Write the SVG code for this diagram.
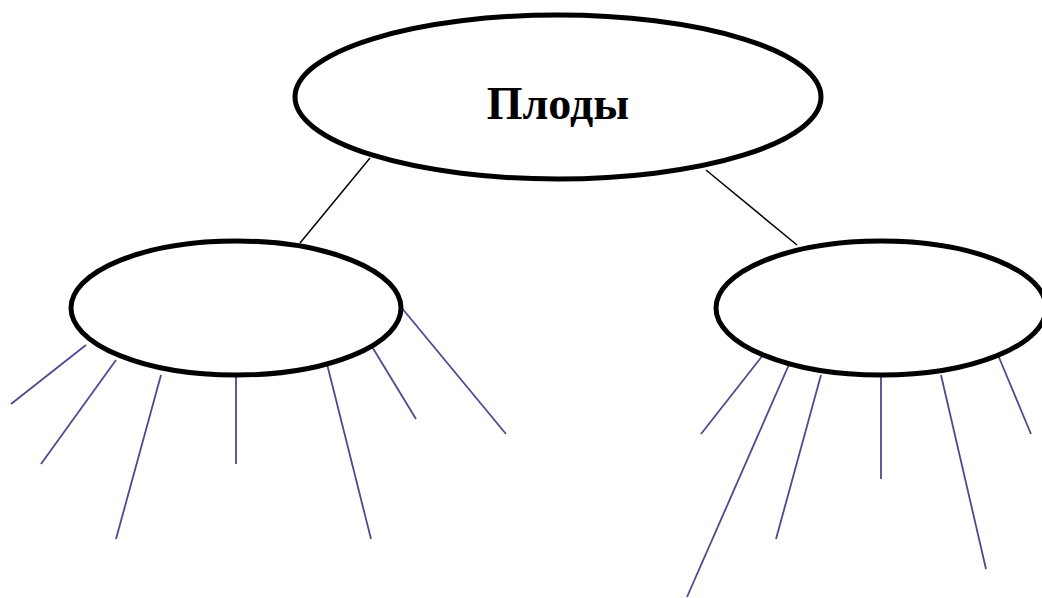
<svg xmlns="http://www.w3.org/2000/svg" width="1042" height="598" viewBox="0 0 1042 598">
<style>
.node{fill:#fff;stroke:#000;stroke-width:5}
.conn{stroke:#000;stroke-width:1.5;fill:none}
.ray{stroke:#4a4c8e;stroke-width:1.8;fill:none}
.lbl{font-family:"Liberation Serif","Times New Roman",serif;font-weight:bold;font-size:46px;fill:#000}
</style>
<rect width="1042" height="598" fill="#fff"/>
<g id="connectors">
<line class="conn" x1="370" y1="158" x2="300" y2="243"/>
<line class="conn" x1="706" y1="170" x2="797" y2="245"/>
<line class="ray" x1="86" y1="345" x2="11" y2="404"/>
<line class="ray" x1="116" y1="360" x2="41" y2="464"/>
<line class="ray" x1="161" y1="375" x2="116" y2="539"/>
<line class="ray" x1="236" y1="375" x2="236" y2="464"/>
<line class="ray" x1="326" y1="360" x2="371" y2="539"/>
<line class="ray" x1="371" y1="345" x2="416" y2="419"/>
<line class="ray" x1="401" y1="307" x2="506" y2="434"/>
<line class="ray" x1="763" y1="355" x2="701" y2="434"/>
<line class="ray" x1="791" y1="360" x2="687" y2="597"/>
<line class="ray" x1="821" y1="375" x2="776" y2="539"/>
<line class="ray" x1="881" y1="375" x2="881" y2="479"/>
<line class="ray" x1="941" y1="375" x2="986" y2="569"/>
<line class="ray" x1="998" y1="355" x2="1031" y2="434"/>
</g>
<g id="node-top">
<ellipse class="node" cx="558" cy="97" rx="263" ry="82"/>
<text class="lbl" x="558" y="119" text-anchor="middle">Плоды</text>
</g>
<g id="node-left">
<ellipse class="node" cx="236" cy="308" rx="165" ry="67"/>
</g>
<g id="node-right">
<ellipse class="node" cx="881" cy="308" rx="165" ry="67"/>
</g>
</svg>
